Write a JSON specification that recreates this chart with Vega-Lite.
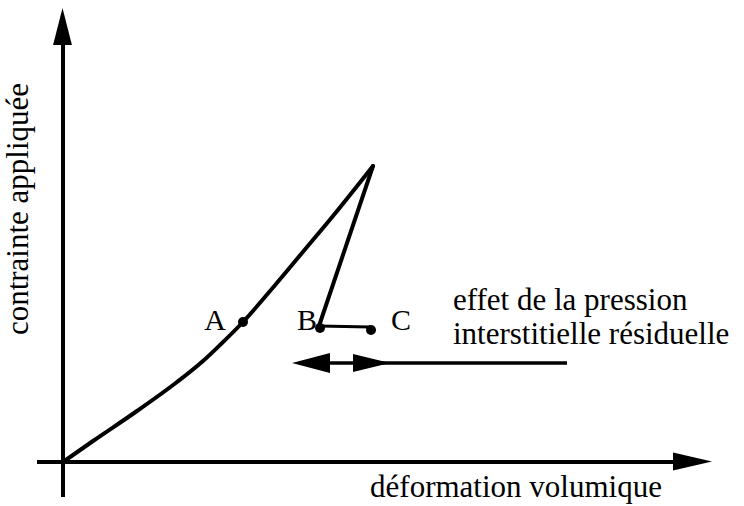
{
  "$schema": "https://vega.github.io/schema/vega-lite/v6.json",
  "width": 744,
  "height": 506,
  "autosize": {"type": "fit", "contains": "padding"},
  "padding": 0,
  "background": "white",
  "config": {"view": {"stroke": null}, "axis": {"disable": true}},
  "datasets": {
    "loading": [
      {"o": 0, "x": 0, "y": 0},
      {"o": 1, "x": 30, "y": 21},
      {"o": 2, "x": 74, "y": 51},
      {"o": 3, "x": 114, "y": 80},
      {"o": 4, "x": 140, "y": 101},
      {"o": 5, "x": 157, "y": 117},
      {"o": 6, "x": 180, "y": 140},
      {"o": 7, "x": 213, "y": 178},
      {"o": 8, "x": 244, "y": 215},
      {"o": 9, "x": 270, "y": 246},
      {"o": 10, "x": 310, "y": 296}
    ],
    "unloading": [
      {"o": 0, "x": 310, "y": 296},
      {"o": 1, "x": 256, "y": 136}
    ],
    "bc": [
      {"o": 0, "x": 256, "y": 136},
      {"o": 1, "x": 307, "y": 135}
    ],
    "axes": [
      {"g": "h", "o": 0, "x": -26, "y": 0},
      {"g": "h", "o": 1, "x": 620, "y": 0},
      {"g": "v", "o": 0, "x": 0, "y": -35},
      {"g": "v", "o": 1, "x": 0, "y": 425}
    ],
    "dbl": [
      {"o": 0, "x": 236, "y": 99},
      {"o": 1, "x": 504, "y": 99}
    ],
    "dots": [
      {"x": 180, "y": 140},
      {"x": 257, "y": 134},
      {"x": 308, "y": 132}
    ],
    "heads": [
      {"k": "right", "x": 629.5, "y": 0.5},
      {"k": "up", "x": -0.5, "y": 435.5},
      {"k": "left", "x": 248, "y": 99},
      {"k": "right2", "x": 308.5, "y": 99}
    ],
    "labels": [
      {"t": "A", "x": 152, "y": 132},
      {"t": "B", "x": 244, "y": 132},
      {"t": "C", "x": 338, "y": 132}
    ],
    "notes": [
      {"t": "effet de la pression", "x": 390, "y": 152},
      {"t": "interstitielle résiduelle", "x": 390, "y": 118}
    ]
  },
  "encoding": {
    "x": {"field": "x", "type": "quantitative", "scale": {"domain": [-63, 681], "nice": false, "zero": false}},
    "y": {"field": "y", "type": "quantitative", "scale": {"domain": [-44, 462], "nice": false, "zero": false}}
  },
  "layer": [
    {
      "data": {"name": "axes"},
      "mark": {"type": "line", "color": "black", "strokeWidth": 4},
      "encoding": {"detail": {"field": "g"}, "order": {"field": "o"}}
    },
    {
      "data": {"name": "loading"},
      "mark": {"type": "line", "color": "black", "strokeWidth": 4, "interpolate": "monotone", "strokeCap": "round"},
      "encoding": {"order": {"field": "o"}}
    },
    {
      "data": {"name": "unloading"},
      "mark": {"type": "line", "color": "black", "strokeWidth": 4, "strokeCap": "round"},
      "encoding": {"order": {"field": "o"}}
    },
    {
      "data": {"name": "bc"},
      "mark": {"type": "line", "color": "black", "strokeWidth": 3},
      "encoding": {"order": {"field": "o"}}
    },
    {
      "data": {"name": "dbl"},
      "mark": {"type": "line", "color": "black", "strokeWidth": 3.5},
      "encoding": {"order": {"field": "o"}}
    },
    {
      "data": {"name": "dots"},
      "mark": {"type": "point", "shape": "circle", "filled": true, "color": "black", "size": 100, "opacity": 1}
    },
    {
      "data": {"name": "heads"},
      "transform": [{"filter": "datum.k === 'right'"}],
      "mark": {"type": "point", "filled": true, "color": "black", "opacity": 1, "size": 1521, "shape": "M1,0 L-1,-0.46 L-1,0.46 Z"}
    },
    {
      "data": {"name": "heads"},
      "transform": [{"filter": "datum.k === 'up'"}],
      "mark": {"type": "point", "filled": true, "color": "black", "opacity": 1, "size": 1369, "shape": "M0,-1 L-0.51,1 L0.51,1 Z"}
    },
    {
      "data": {"name": "heads"},
      "transform": [{"filter": "datum.k === 'left'"}],
      "mark": {"type": "point", "filled": true, "color": "black", "opacity": 1, "size": 1444, "shape": "M-1,0 L1,-0.53 L1,0.53 Z"}
    },
    {
      "data": {"name": "heads"},
      "transform": [{"filter": "datum.k === 'right2'"}],
      "mark": {"type": "point", "filled": true, "color": "black", "opacity": 1, "size": 1369, "shape": "M1,0 L-1,-0.49 L-1,0.49 Z"}
    },
    {
      "data": {"name": "labels"},
      "mark": {"type": "text", "font": "Liberation Serif", "fontSize": 30, "align": "center", "baseline": "alphabetic", "color": "black"},
      "encoding": {"text": {"field": "t"}}
    },
    {
      "data": {"name": "notes"},
      "mark": {"type": "text", "font": "Liberation Serif", "fontSize": 31, "align": "left", "baseline": "alphabetic", "color": "black"},
      "encoding": {"text": {"field": "t"}}
    },
    {
      "data": {"values": [{"t": "déformation volumique", "x": 453, "y": -35}]},
      "mark": {"type": "text", "font": "Liberation Serif", "fontSize": 31, "align": "center", "baseline": "alphabetic", "color": "black"},
      "encoding": {"text": {"field": "t"}}
    },
    {
      "data": {"values": [{"t": "contrainte appliquée", "x": -35, "y": 253}]},
      "mark": {"type": "text", "font": "Liberation Serif", "fontSize": 31, "align": "center", "baseline": "alphabetic", "angle": 270, "color": "black"},
      "encoding": {"text": {"field": "t"}}
    }
  ]
}
